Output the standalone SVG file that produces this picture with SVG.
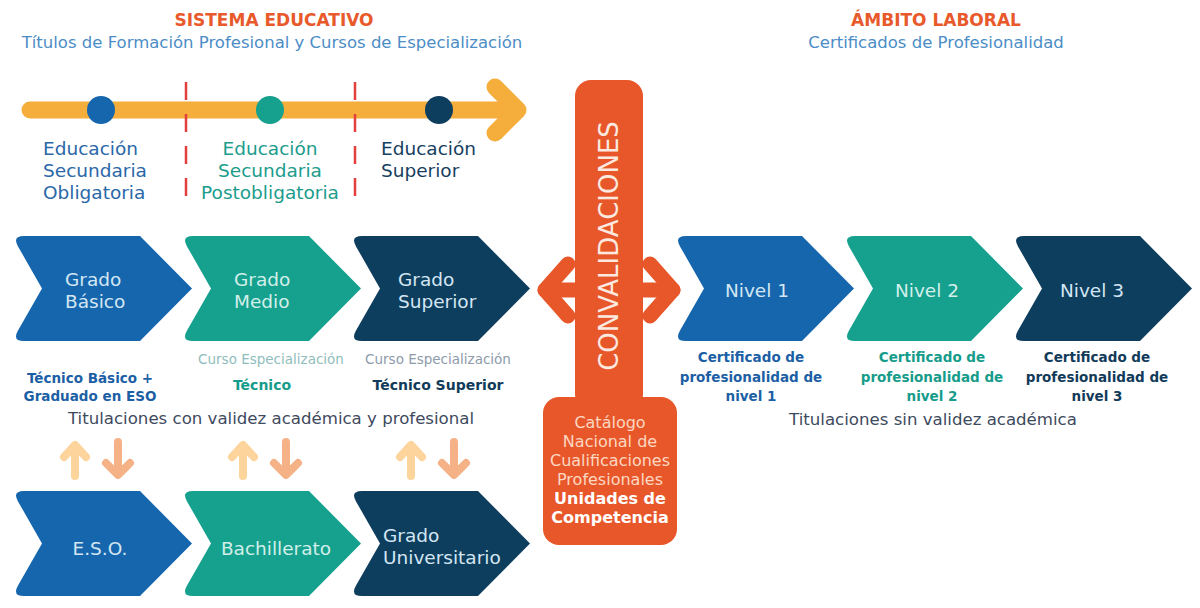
<svg xmlns="http://www.w3.org/2000/svg" width="1200" height="608" viewBox="0 0 1200 608">
  <defs>
    <path id="chev" d="M12,0 L128,0 L180,52.5 L128,105 L12,105 Q0,105 6,94.6 L30,52.5 L6,10.4 Q0,0 12,0 Z"/>
  </defs>
  <style>
    text { font-family: "DejaVu Sans", "Liberation Sans", sans-serif; }
    .blue { fill: #1666ae; }
    .teal { fill: #16a08e; }
    .navy { fill: #0e3e5e; }
    .orange { fill: #e8572a; }
    .ostroke { fill: none; stroke: #e8572a; stroke-width: 15; stroke-linecap: round; stroke-linejoin: round; }
    .head { font-size: 17px; font-weight: bold; fill: #e8592b; text-anchor: middle; }
    .sub { font-size: 16.5px; fill: #4b8dc6; text-anchor: middle; }
    .lab { font-size: 18.5px; }
    .lab-b { fill: #2a68a8; }
    .lab-t { fill: #1b9c8d; }
    .lab-n { fill: #173f5f; }
    .ct { font-size: 18.5px; fill: #d4e6f3; }
    .ct-t { fill: #d2efe9; }
    .mid { text-anchor: middle; }
    .small { font-size: 13.5px; }
    .sm-b { font-size: 13.5px; font-weight: bold; text-anchor: middle; }
    .tit { font-size: 16.6px; fill: #3e4a5e; text-anchor: middle; }
    .ob { font-size: 16px; text-anchor: middle; fill: #fdd8c2; }
    .ob-w { fill: #ffffff; font-weight: bold; }
    .up { stroke: #fdd49c; }
    .down { stroke: #f6b287; }
    .arr { fill: none; stroke-width: 8; stroke-linecap: round; stroke-linejoin: round; }
  </style>
  <rect width="1200" height="608" fill="#ffffff"/>

  <!-- Headers -->
  <g id="header-educativo">
    <text x="274" y="26" class="head">SISTEMA EDUCATIVO</text>
    <text x="272" y="48" class="sub">Títulos de Formación Profesional y Cursos de Especialización</text>
  </g>
  <g id="header-laboral">
    <text x="936" y="26" class="head">ÁMBITO LABORAL</text>
    <text x="936" y="48" class="sub">Certificados de Profesionalidad</text>
  </g>

  <!-- Timeline -->
  <g id="timeline">
    <line x1="30" y1="110" x2="516" y2="110" stroke="#f5ad3b" stroke-width="17" stroke-linecap="round"/>
    <polyline points="495,87 518,110 495,133" fill="none" stroke="#f5ad3b" stroke-width="17" stroke-linecap="round" stroke-linejoin="round"/>
    <line x1="186" y1="82" x2="186" y2="208" stroke="#e2403c" stroke-width="2.5" stroke-dasharray="18 14"/>
    <line x1="355" y1="82" x2="355" y2="208" stroke="#e2403c" stroke-width="2.5" stroke-dasharray="18 14"/>
  </g>
  <g id="stage-eso">
    <circle cx="101" cy="110" r="14" class="blue"/>
    <text class="lab lab-b" x="43" y="155">Educación</text>
    <text class="lab lab-b" x="43" y="177">Secundaria</text>
    <text class="lab lab-b" x="43" y="199">Obligatoria</text>
  </g>
  <g id="stage-postobligatoria">
    <circle cx="270" cy="110" r="14" class="teal"/>
    <text class="lab lab-t mid" x="270" y="155">Educación</text>
    <text class="lab lab-t mid" x="270" y="177">Secundaria</text>
    <text class="lab lab-t mid" x="270" y="199">Postobligatoria</text>
  </g>
  <g id="stage-superior">
    <circle cx="439" cy="110" r="14" class="navy"/>
    <text class="lab lab-n" x="381" y="155">Educación</text>
    <text class="lab lab-n" x="381" y="177">Superior</text>
  </g>

  <!-- Row 1: FP grades -->
  <g id="grado-basico">
    <use href="#chev" x="12" y="236" class="blue"/>
    <text class="ct" x="65" y="286">Grado</text>
    <text class="ct" x="65" y="308">Básico</text>
    <text class="sm-b" x="90" y="383" fill="#1c5fa5">Técnico Básico +</text>
    <text class="sm-b" x="90" y="401" fill="#1c5fa5">Graduado en ESO</text>
  </g>
  <g id="grado-medio">
    <use href="#chev" x="181" y="236" class="teal"/>
    <text class="ct ct-t" x="234" y="286">Grado</text>
    <text class="ct ct-t" x="234" y="308">Medio</text>
    <text class="small mid" x="271" y="364" fill="#8fbdbd">Curso Especialización</text>
    <text class="sm-b" x="262" y="390" fill="#169c8b" style="font-size:14px">Técnico</text>
  </g>
  <g id="grado-superior">
    <use href="#chev" x="350" y="236" class="navy"/>
    <text class="ct" x="398" y="286">Grado</text>
    <text class="ct" x="398" y="308">Superior</text>
    <text class="small mid" x="438" y="364" fill="#8d9baa">Curso Especialización</text>
    <text class="sm-b" x="438" y="390" fill="#123b5a" style="font-size:14px">Técnico Superior</text>
  </g>
  <text class="tit" x="271" y="424">Titulaciones con validez académica y profesional</text>

  <!-- Row 3: general education -->
  <g id="eso">
    <use href="#chev" x="12" y="491" class="blue"/>
    <text class="ct mid" x="100" y="555">E.S.O.</text>
  </g>
  <g id="bachillerato">
    <use href="#chev" x="181" y="491" class="teal"/>
    <text class="ct ct-t mid" x="276" y="555">Bachillerato</text>
  </g>
  <g id="grado-universitario">
    <use href="#chev" x="350" y="491" class="navy"/>
    <text class="ct" x="383" y="542">Grado</text>
    <text class="ct" x="383" y="564">Universitario</text>
  </g>

  <!-- Convalidaciones -->
  <g id="convalidaciones">
    <line x1="545" y1="290" x2="673" y2="290" class="ostroke"/>
    <polyline points="568,264 545,290 568,316" class="ostroke"/>
    <polyline points="650,264 673,290 650,316" class="ostroke"/>
    <rect x="575" y="80" width="68" height="330" rx="16" class="orange"/>
    <rect x="543" y="397" width="134" height="148" rx="16" class="orange"/>
    <text x="609" y="255" transform="rotate(-90 609 246)" text-anchor="middle" font-size="26" fill="#fbe9e0">CONVALIDACIONES</text>
    <text class="ob" x="610" y="428">Catálogo</text>
    <text class="ob" x="610" y="447">Nacional de</text>
    <text class="ob" x="610" y="466">Cualificaciones</text>
    <text class="ob" x="610" y="485">Profesionales</text>
    <text class="ob ob-w" x="610" y="504">Unidades de</text>
    <text class="ob ob-w" x="610" y="523">Competencia</text>
  </g>

  <!-- Niveles -->
  <g id="nivel-1">
    <use href="#chev" x="674" y="236" class="blue"/>
    <text class="ct mid" x="757" y="297">Nivel 1</text>
    <text class="sm-b" x="751" y="362" fill="#1c5fa5">Certificado de</text>
    <text class="sm-b" x="751" y="382" fill="#1c5fa5">profesionalidad de</text>
    <text class="sm-b" x="751" y="401" fill="#1c5fa5">nivel 1</text>
  </g>
  <g id="nivel-2">
    <use href="#chev" x="843" y="236" class="teal"/>
    <text class="ct ct-t mid" x="927" y="297">Nivel 2</text>
    <text class="sm-b" x="932" y="362" fill="#169c8b">Certificado de</text>
    <text class="sm-b" x="932" y="382" fill="#169c8b">profesionalidad de</text>
    <text class="sm-b" x="932" y="401" fill="#169c8b">nivel 2</text>
  </g>
  <g id="nivel-3">
    <use href="#chev" x="1012" y="236" class="navy"/>
    <text class="ct mid" x="1092" y="297">Nivel 3</text>
    <text class="sm-b" x="1097" y="362" fill="#123b5a">Certificado de</text>
    <text class="sm-b" x="1097" y="382" fill="#123b5a">profesionalidad de</text>
    <text class="sm-b" x="1097" y="401" fill="#123b5a">nivel 3</text>
  </g>
  <text class="tit" x="933" y="425">Titulaciones sin validez académica</text>

  <!-- Connectors: up/down arrows between rows -->
  <g id="connectors">
    <g class="arr up">
      <line x1="75" y1="476" x2="75" y2="446"/>
      <polyline points="64,457 75,445 86,457"/>
      <line x1="243" y1="476" x2="243" y2="446"/>
      <polyline points="232,457 243,445 254,457"/>
      <line x1="411" y1="476" x2="411" y2="446"/>
      <polyline points="400,457 411,445 422,457"/>
    </g>
    <g class="arr down">
      <line x1="118" y1="442" x2="118" y2="474"/>
      <polyline points="106,463 118,475 130,463"/>
      <line x1="286" y1="442" x2="286" y2="474"/>
      <polyline points="274,463 286,475 298,463"/>
      <line x1="454" y1="442" x2="454" y2="474"/>
      <polyline points="442,463 454,475 466,463"/>
    </g>
  </g>
</svg>
